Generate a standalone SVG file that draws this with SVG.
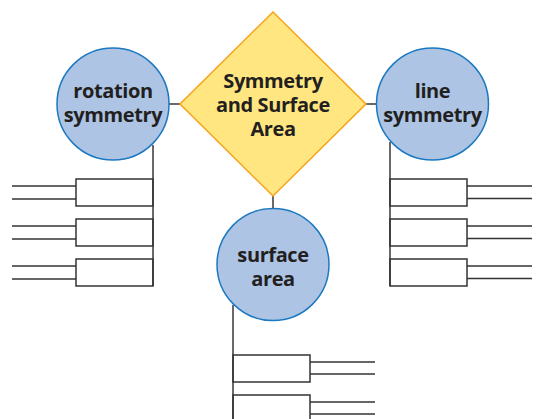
<svg xmlns="http://www.w3.org/2000/svg" width="539" height="419" viewBox="0 0 539 419">
<style>
.c{fill:#adc4e4;stroke:#1c79c0;stroke-width:1.5}
.d{fill:#ffe680;stroke:#f7a21b;stroke-width:1.5}
.t{font-family:"Open Sans","Noto Sans",sans-serif;font-weight:bold;font-size:20px;fill:#231f20;text-anchor:middle;letter-spacing:-0.4px}
.l{stroke:#444;stroke-width:1.6;fill:none}
.b{fill:none;stroke:#333;stroke-width:1.5}
.s{stroke:#333;stroke-width:1.4}
</style>
<rect width="539" height="419" fill="#fff"/>
<g id="connectors">
<line class="l" x1="169" y1="104" x2="180" y2="104"/>
<line class="l" x1="366" y1="104" x2="377" y2="104"/>
<line class="l" x1="273" y1="196" x2="273" y2="208"/>
<line class="l" x1="153" y1="145" x2="153" y2="286"/>
<line class="l" x1="390" y1="142" x2="390" y2="286"/>
<line class="l" x1="233" y1="305" x2="233" y2="419"/>
</g>
<g id="left-tree">
<rect class="b" x="76" y="179" width="77" height="27"/>
<rect class="b" x="76" y="219" width="77" height="27"/>
<rect class="b" x="76" y="259" width="77" height="27"/>
<line class="s" x1="12" y1="186" x2="76" y2="186"/><line class="s" x1="12" y1="199" x2="76" y2="199"/>
<line class="s" x1="12" y1="226" x2="76" y2="226"/><line class="s" x1="12" y1="239" x2="76" y2="239"/>
<line class="s" x1="12" y1="266" x2="76" y2="266"/><line class="s" x1="12" y1="279" x2="76" y2="279"/>
</g>
<g id="right-tree">
<rect class="b" x="390" y="179" width="77" height="27"/>
<rect class="b" x="390" y="219" width="77" height="27"/>
<rect class="b" x="390" y="259" width="77" height="27"/>
<line class="s" x1="467" y1="186" x2="532" y2="186"/><line class="s" x1="467" y1="198.5" x2="532" y2="198.5"/>
<line class="s" x1="467" y1="226" x2="532" y2="226"/><line class="s" x1="467" y1="238.5" x2="532" y2="238.5"/>
<line class="s" x1="467" y1="266" x2="532" y2="266"/><line class="s" x1="467" y1="278.5" x2="532" y2="278.5"/>
</g>
<g id="bottom-tree">
<rect class="b" x="233" y="355" width="77" height="27"/>
<rect class="b" x="233" y="395" width="77" height="27"/>
<line class="s" x1="310" y1="362" x2="375" y2="362"/><line class="s" x1="310" y1="374" x2="375" y2="374"/>
<line class="s" x1="310" y1="402" x2="375" y2="402"/><line class="s" x1="310" y1="414" x2="375" y2="414"/>
</g>
<g id="center">
<polygon class="d" points="273,12 366,104 273,196 180,104"/>
<text class="t" x="273" y="88">Symmetry</text>
<text class="t" x="273" y="112">and Surface</text>
<text class="t" x="273" y="136">Area</text>
</g>
<g id="rotation-symmetry">
<circle class="c" cx="113" cy="104" r="56"/>
<text class="t" x="113" y="98">rotation</text>
<text class="t" x="113" y="122">symmetry</text>
</g>
<g id="line-symmetry">
<circle class="c" cx="432.5" cy="104" r="56"/>
<text class="t" x="432.5" y="98">line</text>
<text class="t" x="432.5" y="122">symmetry</text>
</g>
<g id="surface-area">
<circle class="c" cx="273" cy="264.5" r="56"/>
<text class="t" x="273" y="262">surface</text>
<text class="t" x="273" y="286">area</text>
</g>
</svg>
